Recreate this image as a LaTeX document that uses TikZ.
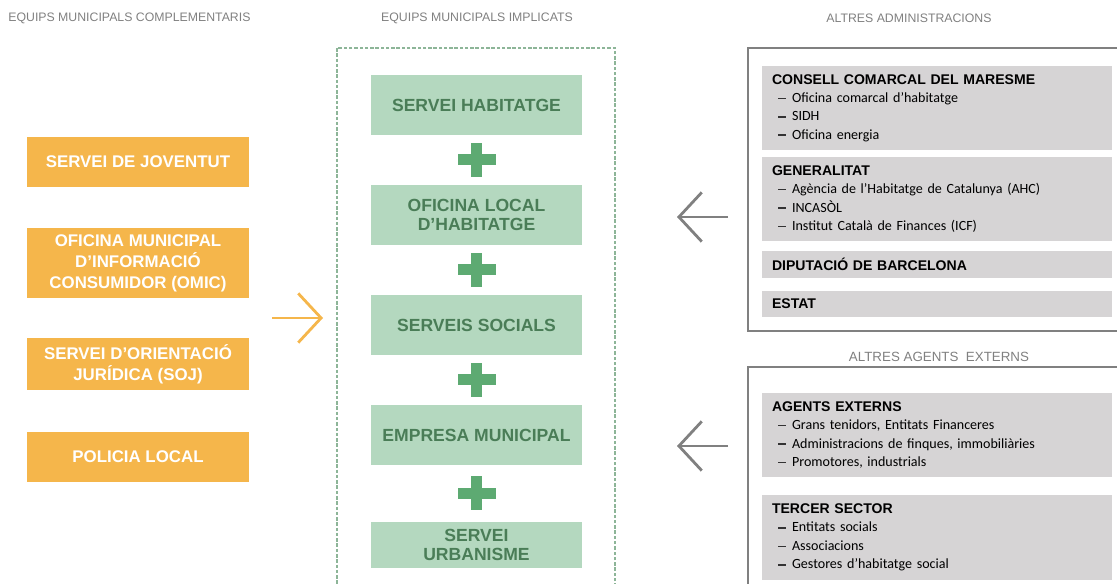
\documentclass[tikz,border=0pt]{standalone}
\usepackage{fontspec}
\setmainfont{Liberation Sans}
\newfontfamily\itemfont{Carlito}
\usetikzlibrary{arrows.meta, calc}
\definecolor{cOrange}{HTML}{F5B64B}
\definecolor{cGreenBg}{HTML}{B4D8BF}
\definecolor{cGreen}{HTML}{4A7D57}
\definecolor{cPlus}{HTML}{5DAA72}
\definecolor{cGrayBg}{HTML}{D6D4D5}
\definecolor{cGray}{HTML}{808080}
\definecolor{cDash}{HTML}{8DB598}

\newcommand{\hdrfont}{\fontsize{7}{8}\selectfont}
\newcommand{\admtitle}[1]{{\bfseries #1}}
\newcommand{\admitem}[1]{\hspace*{3.4pt}{\color{black!80}\rule[1.9pt]{4.4pt}{0.9pt}}\hspace{3.6pt}{\itemfont #1}}

\begin{document}
\begin{tikzpicture}[x=0.02cm, y=-0.02cm,
  every node/.style={font=\fontsize{8}{10.5}\selectfont},
  header/.style={text=cGray, font=\hdrfont, inner sep=0pt},
  compbox/.style={fill=cOrange, text=white, minimum width=4.44cm, minimum height=1cm,
                  align=center, font=\bfseries\fontsize{9.6}{12}\selectfont},
  implbox/.style={fill=cGreenBg, text=cGreen, minimum width=4.22cm, minimum height=1.2cm,
                  align=center, font=\bfseries\fontsize{10}{10.8}\selectfont},
  admbox/.style={fill=cGrayBg, text=black, minimum width=7cm, text width=6.6cm,
                 inner xsep=0.2cm, inner ysep=0pt, align=left},
  frame/.style={draw=cGray, line width=1.1pt},
  link/.style={line width=1.6pt, -{Straight Barb[length=13pt, width=28pt]}},
]
  \path[use as bounding box, clip] (0,0) rectangle (1117,584);

  % Headers
  \node[header, anchor=west] (hcomp) at (8,18) {EQUIPS MUNICIPALS COMPLEMENTARIS};
  \node[header] (himpl) at (477,18) {EQUIPS MUNICIPALS IMPLICATS};
  \node[header] (hadm) at (909,18) {ALTRES ADMINISTRACIONS};
  \node[header, font=\fontsize{7.6}{8}\selectfont] (hext) at (939,357) {ALTRES AGENTS\ \ EXTERNS};

  % Frames
  \draw[cDash, line width=0.6pt, dash pattern=on 2pt off 1pt] (337,48) rectangle (615,600);
  \draw[frame] (748,48) rectangle (1130,331);
  \draw[frame] (748,367) rectangle (1130,600);

  % Complementary teams
  \node[compbox] (jov) at (138,162) {SERVEI DE JOVENTUT};
  \node[compbox, minimum height=1.36cm] (omic) at (138,263) {OFICINA MUNICIPAL\\D’INFORMACIÓ\\CONSUMIDOR (OMIC)};
  \node[compbox] (soj) at (138,364) {SERVEI D’ORIENTACIÓ\\JURÍDICA (SOJ)};
  \node[compbox] (pol) at (138,457) {POLICIA LOCAL};

  % Involved teams
  \node[implbox] (hab) at (476.5,105) {SERVEI HABITATGE};
  \node[implbox] (olh) at (476.5,215) {OFICINA LOCAL\\D’HABITATGE};
  \node[implbox] (soc) at (476.5,325) {SERVEIS SOCIALS};
  \node[implbox] (emp) at (476.5,435) {EMPRESA MUNICIPAL};
  \node[implbox, minimum height=0.94cm] (urb) at (476.5,545) {SERVEI\\URBANISME};

  % Plus signs
  \foreach \a/\b in {hab/olh, olh/soc, soc/emp, emp/urb} {
    \coordinate (p) at ($(\a.south)!0.5!(\b.north)$);
    \fill[cPlus] (p) ++(-19,-5.5) rectangle ++(38,11);
    \fill[cPlus] (p) ++(-5.5,-17) rectangle ++(11,34);
  }

  % Other administrations
  \node[admbox, minimum height=1.68cm] (ccm) at (937,108) {\admtitle{CONSELL COMARCAL DEL MARESME}\\
    \admitem{Oficina comarcal d’habitatge}\\
    \admitem{SIDH}\\
    \admitem{Oficina energia}};
  \node[admbox, minimum height=1.68cm] (gen) at (937,199) {\admtitle{GENERALITAT}\\
    \admitem{Agència de l’Habitatge de Catalunya (AHC)}\\
    \admitem{INCASÒL}\\
    \admitem{Institut Català de Finances (ICF)}};
  \node[admbox, minimum height=0.54cm] (dip) at (937,264.5) {\admtitle{DIPUTACIÓ DE BARCELONA}};
  \node[admbox, minimum height=0.52cm] (est) at (937,304) {\admtitle{ESTAT}};

  % External agents
  \node[admbox, minimum height=1.68cm] (agt) at (937,435) {\admtitle{AGENTS EXTERNS}\\
    \admitem{Grans tenidors, Entitats Financeres}\\
    \admitem{Administracions de finques, immobiliàries}\\
    \admitem{Promotores, industrials}};
  \node[admbox, minimum height=1.7cm] (ter) at (937,537.5) {\admtitle{TERCER SECTOR}\\
    \admitem{Entitats socials}\\
    \admitem{Associacions}\\
    \admitem{Gestores d’habitatge social}};

  % Arrows
  \coordinate (cin1) at (272,318);
  \coordinate (cin2) at (323,318);
  \coordinate (adm1) at (728,217);
  \coordinate (adm2) at (677,217);
  \coordinate (ext1) at (728,446);
  \coordinate (ext2) at (677,446);
  \draw[link, cOrange] (cin1) -- (cin2);
  \draw[link, cGray] (adm1) -- (adm2);
  \draw[link, cGray] (ext1) -- (ext2);
\end{tikzpicture}
\end{document}
